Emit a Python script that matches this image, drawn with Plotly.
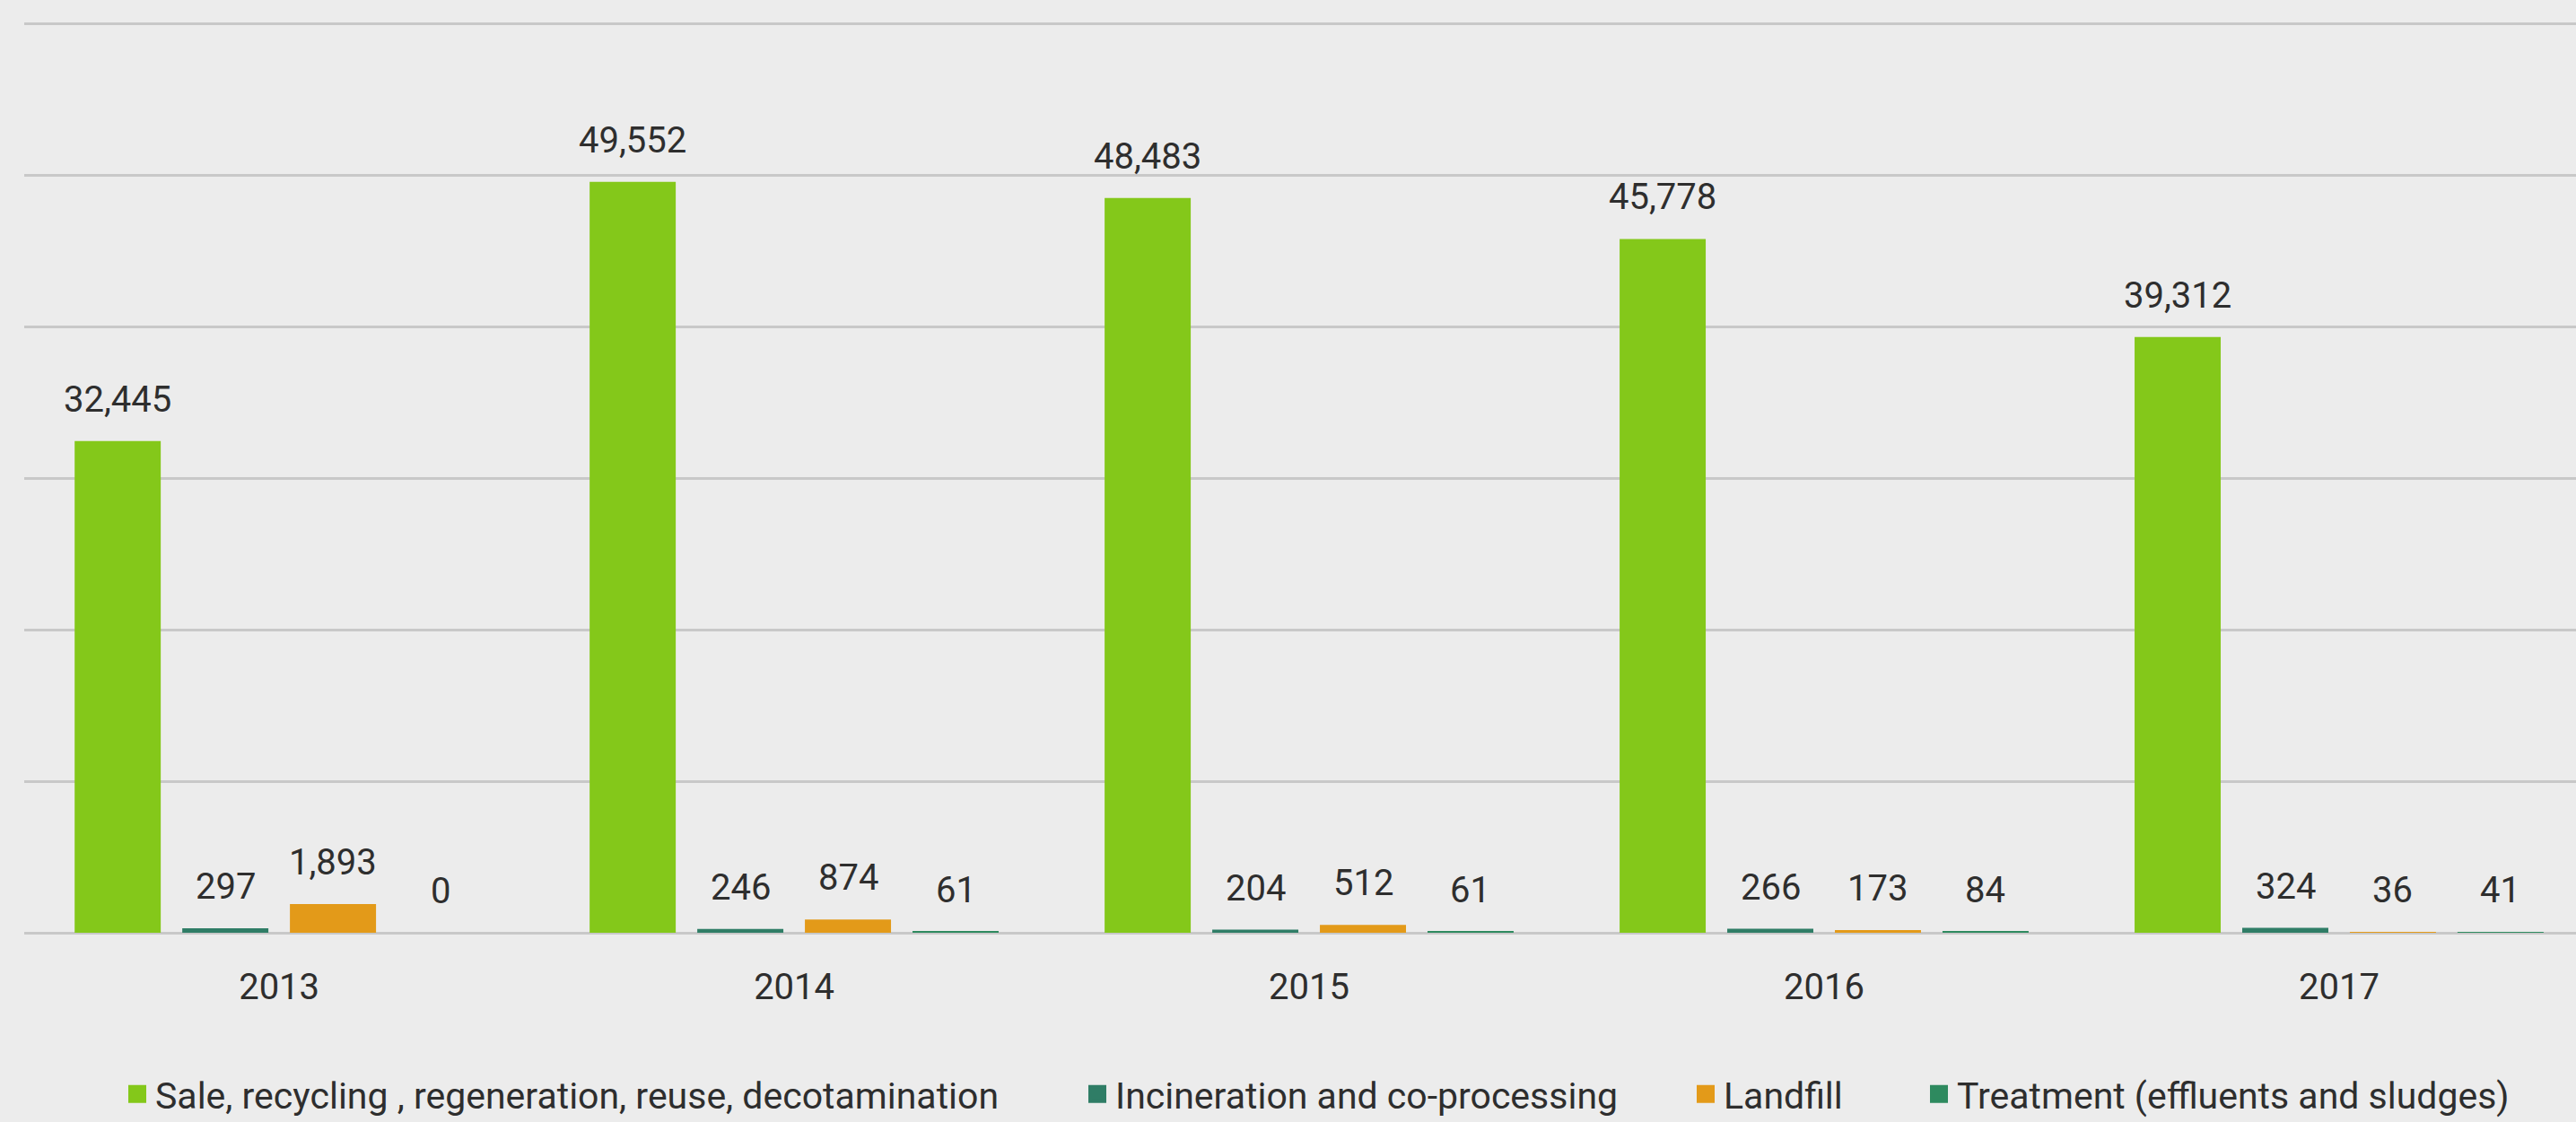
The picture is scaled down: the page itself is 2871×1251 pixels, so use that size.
import plotly.graph_objects as go

# ---- data ----
years = ["2013", "2014", "2015", "2016", "2017"]
series_names = [
    "Sale, recycling , regeneration, reuse, decotamination",
    "Incineration and co-processing",
    "Landfill",
    "Treatment (effluents and sludges)",
]
sale = [32445, 49552, 48483, 45778, 39312]
incineration = [297, 246, 204, 266, 324]
landfill = [1893, 874, 512, 173, 36]
treatment = [0, 61, 61, 84, 41]
series_values = [sale, incineration, landfill, treatment]

# ---- style ----
colors = ["#84c81a", "#2f7d66", "#e39a19", "#2e8a5f"]
W, H = 2871, 1251
ML, MR, MT, MB = 27, 0, 21, 211
x_range = [-0.495, 4.46]
y_range = [0, 60300]
bargap, bargroupgap = 0.164, 0.2
FONT = "Roboto, Arial, sans-serif"
TXT = "#2e2e2e"
BG = "#ececec"
GRID = "#c8c8c8"

# legend left positions (container px)
legend_px = [133, 1203, 1881, 2141]
legend_y_px = 1220

fig = go.Figure()
legend_ids = ["legend", "legend2", "legend3", "legend4"]
for name, vals, col in zip(series_names, series_values, colors):
    fig.add_trace(go.Bar(x=years, y=vals, name=name, marker=dict(color=col, line=dict(width=0)),
                         showlegend=False, hoverinfo="x+y+name"))
# legend entries (square swatches)
for name, col, lg in zip(series_names, colors, legend_ids):
    fig.add_trace(go.Scatter(x=[None], y=[None], mode="markers", name=name, legend=lg,
                             marker=dict(symbol="square", size=16, color=col,
                                         line=dict(color=col, width=4)),
                             showlegend=True, hoverinfo="skip"))

# value labels above bars (x in category-index units, offset to each bar's slot)
n = len(series_values)
slot = (1 - bargap) / n
annotations = []
for k, vals in enumerate(series_values):
    for j, v in enumerate(vals):
        annotations.append(dict(
            x=j + (k - (n - 1) / 2) * slot, y=v, xref="x", yref="y", text=f"{v:,}",
            showarrow=False, xanchor="center", yanchor="bottom", yshift=21,
            font=dict(family=FONT, size=40, color=TXT)))

legend_layouts = {}
for lg, px in zip(legend_ids, legend_px):
    legend_layouts[lg] = dict(
        x=px / W, xref="container", xanchor="left",
        y=1 - legend_y_px / H, yref="container", yanchor="middle",
        orientation="h", bgcolor="rgba(0,0,0,0)", borderwidth=0,
        itemsizing="trace", font=dict(family=FONT, size=41, color=TXT))

fig.update_layout(
    width=W, height=H,
    margin=dict(l=ML, r=MR, t=MT, b=MB, pad=0, autoexpand=False),
    paper_bgcolor=BG, plot_bgcolor=BG,
    barmode="group", bargap=bargap, bargroupgap=bargroupgap,
    font=dict(family=FONT, size=40, color=TXT),
    annotations=annotations,
    **legend_layouts,
)
fig.update_xaxes(type="category", range=x_range, showgrid=False, ticks="", showline=False,
                 zeroline=False, tickfont=dict(family=FONT, size=40, color=TXT),
                 ticklabelstandoff=33, fixedrange=True)
fig.update_yaxes(range=y_range, dtick=10000, showticklabels=False, ticks="", showgrid=True,
                 gridcolor=GRID, gridwidth=3, zeroline=True, zerolinecolor=GRID, zerolinewidth=3,
                 showline=False, fixedrange=True)

fig.write_html(
    "out.html",
    config={"displayModeBar": False},
    post_script="document.body.style.margin='0';document.body.style.overflow='hidden';"
                "document.body.style.background='#ececec';",
)
